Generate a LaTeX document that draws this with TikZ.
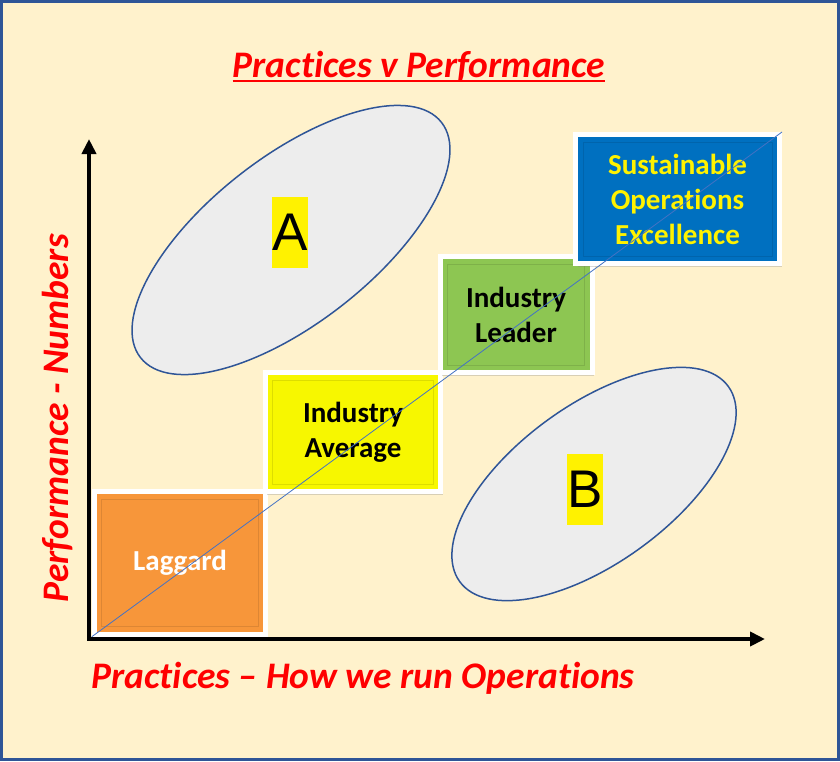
\documentclass[tikz,border=0pt]{standalone}
\usepackage{fontspec}
\setmainfont{Carlito}[Ligatures={NoCommon}]
\newfontfamily\letterfont{Liberation Sans}
\usetikzlibrary{arrows.meta,shadows}

\definecolor{bgcream}{HTML}{FFF2CC}
\definecolor{frameblue}{HTML}{2F5597}
\definecolor{zonegray}{HTML}{EDEDED}
\definecolor{diagblue}{HTML}{4472C4}
\definecolor{lagorange}{HTML}{F7963A}
\definecolor{avgyellow}{HTML}{F7F700}
\definecolor{leadgreen}{HTML}{8DC652}
\definecolor{soeblue}{HTML}{0070C0}

\begin{document}
\begin{tikzpicture}[x=1pt,y=-1pt,
  stage/.style={draw=white,line width=5pt,inner sep=0pt,align=center,
    font=\fontsize{29}{35}\selectfont\bfseries,
    drop shadow={shadow xshift=2pt,shadow yshift=-3pt,opacity=0.3},
    path picture={\draw[black,opacity=0.1,line width=0.8pt]
      ([shift={(7.5,7.5)}]path picture bounding box.north west) rectangle
      ([shift={(-7.5,-7.5)}]path picture bounding box.south east);}},
  zone/.style={draw=frameblue,fill=zonegray,line width=1.5pt},
  axislabel/.style={text=red,inner sep=0pt,font=\fontsize{37.5}{44}\selectfont\bfseries\itshape},
  tag/.style={fill=yellow,inner sep=0pt,minimum width=34pt,minimum height=71pt,
    font=\letterfont\fontsize{53}{60}\selectfont}]
  \useasboundingbox (0,0) rectangle (840,761);
  \draw[frameblue,fill=bgcream,line width=3pt] (1.5,1.5) rectangle (838.5,759.5);
  % Title
  \node (title) at (419,77) [axislabel,anchor=base] {Practices v Performance};
  \draw[red,line width=2.5pt] ([yshift=-4pt]title.base west) -- ([yshift=-4pt]title.base east);
  % Axes
  \coordinate (origin) at (89,639);
  \coordinate (ytip) at (89,139);
  \coordinate (xtip) at (765,639);
  \draw[line width=4pt,line join=miter,{Triangle[length=15pt,width=14pt]}-{Triangle[length=15pt,width=14pt]}]
    (ytip) -- (origin) -- (xtip);
  \node (ylabel) at (68,418) [axislabel,anchor=base,rotate=90] {Performance - Numbers};
  \node (xlabel) at (363,688) [axislabel,anchor=base] {Practices – How we run Operations};
  % Zones A and B
  \draw[zone,rotate around={38:(291,240)}] (291,240) ellipse [x radius=191,y radius=83];
  \draw[zone,rotate around={36:(594,484)}] (594,484) ellipse [x radius=166,y radius=79];
  \node (tagA) at (290,232) [tag] {A};
  \node (tagB) at (585,489) [tag] {B};
  % Stages
  \node (lag) at (180,563) [stage,fill=lagorange,text=white,minimum width=171.5pt,minimum height=142.5pt] {Laggard};
  \node (avg) at (353,432) [stage,fill=avgyellow,minimum width=175.5pt,minimum height=119pt] {Industry\\Average};
  \node (lead) at (516,314.5) [stage,fill=leadgreen,minimum width=152pt,minimum height=116pt] {Industry\\Leader};
  \node (soe) at (677.5,199) [stage,fill=soeblue,text=yellow,minimum width=204pt,minimum height=129pt] {Sustainable\\Operations\\Excellence};
  % Diagonal
  \draw[diagblue,line width=0.8pt] (lag.south west) -- (soe.north east);
\end{tikzpicture}
\end{document}
